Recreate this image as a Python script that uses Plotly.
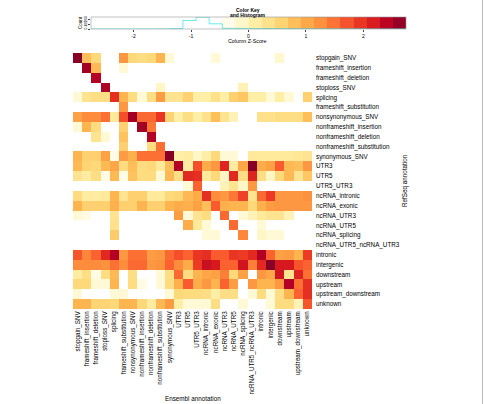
import plotly.graph_objects as go
import numpy as np

# ---------------- data ----------------
ensembl_labels = ["stopgain_SNV", "frameshift_insertion", "frameshift_deletion", "stoploss_SNV",
                  "splicing", "frameshift_substitution", "nonsynonymous_SNV", "nonframeshift_insertion",
                  "nonframeshift_deletion", "nonframeshift_substitution", "synonymous_SNV", "UTR3", "UTR5",
                  "UTR5_UTR3", "ncRNA_intronic", "ncRNA_exonic", "ncRNA_UTR3", "ncRNA_UTR5",
                  "ncRNA_splicing", "ncRNA_UTR5_ncRNA_UTR3", "intronic", "intergenic", "downstream",
                  "upstream", "upstream_downstream", "unknown"]
refseq_labels = list(ensembl_labels)

# column z-scores (rows = RefSeq annotation, columns = Ensembl annotation)
zscore = [
    [2.7, 0.8, 0.5, -0.8, -0.8, 1.2, 0.5, 0.4, 0.5, 0.9, -0.2, -0.8, -0.8, -0.8, -0.8, -0.2, -0.8, -0.8, -0.8, -0.8, -0.8, -0.8, -0.15, -0.8, -0.8, -0.8],
    [-0.8, 2.55, 0.85, -0.8, -0.8, -0.2, -0.8, -0.8, -0.8, -0.8, -0.8, -0.8, -0.8, -0.8, -0.8, -0.8, -0.8, -0.8, -0.8, -0.8, -0.8, -0.8, -0.8, -0.8, -0.8, -0.8],
    [-0.8, -0.8, 2.45, -0.8, -0.8, -0.8, -0.8, -0.8, -0.8, -0.8, -0.8, -0.8, -0.8, -0.8, -0.8, -0.8, -0.8, -0.8, -0.8, -0.8, -0.8, -0.8, -0.8, -0.8, -0.8, -0.8],
    [-0.8, -0.8, -0.8, 2.5, -0.8, -0.8, -0.8, -0.8, -0.8, -0.1, -0.8, -0.8, -0.8, -0.8, -0.8, -0.8, -0.8, -0.8, 0.0, -0.8, -0.8, -0.8, -0.8, -0.8, -0.8, -0.8],
    [-0.2, 0.3, 0.4, 0.4, 2.0, 0.9, 0.45, -0.2, 0.4, 1.15, 0.3, 0.3, 0.6, 0.1, 0.1, 0.35, 0.1, 0.6, 0.7, 0.1, 0.1, -0.2, 0.1, -0.2, -0.5, 0.6],
    [-0.8, -0.8, -0.8, -0.8, -0.8, 1.2, -0.8, -0.8, -0.8, -0.8, -0.8, -0.8, -0.8, -0.8, -0.8, -0.8, -0.8, -0.8, -0.8, -0.8, -0.8, -0.8, -0.8, -0.8, -0.8, -0.8],
    [1.1, 1.3, 1.3, 1.5, 0.2, 1.75, 2.55, 1.55, 1.55, 1.95, 0.55, 0.1, 0.4, 0.1, 0.35, 0.8, 0.3, 0.0, -0.6, -0.6, 0.35, 0.35, 0.4, 0.4, 0.4, 0.8],
    [-0.2, 0.9, 0.45, -0.8, -0.8, 0.6, -0.8, 2.55, 1.45, -0.8, -0.8, -0.8, -0.8, -0.8, -0.8, -0.8, -0.8, -0.8, -0.8, -0.8, -0.8, -0.8, -0.8, -0.8, -0.8, -0.8],
    [-0.8, -0.8, 0.3, -0.2, -0.8, 0.75, -0.8, -0.8, 2.45, -0.8, -0.8, -0.8, -0.8, -0.8, -0.8, -0.8, -0.8, -0.8, -0.8, -0.8, -0.8, -0.8, -0.8, -0.8, -0.8, -0.8],
    [-0.8, -0.8, -0.8, -0.8, -0.8, 0.6, -0.8, -0.8, 0.45, 1.5, -0.8, -0.8, -0.8, -0.8, -0.8, -0.8, -0.8, -0.8, -0.8, -0.8, -0.8, -0.8, -0.8, -0.8, -0.8, -0.8],
    [0.9, 0.6, 0.6, 1.1, -0.3, 1.15, 0.95, 1.5, 1.5, 1.5, 2.7, 0.1, 0.15, -0.1, 0.1, 0.5, -0.2, -0.2, -0.6, 0.2, 0.2, 0.2, 0.2, 0.2, 0.25, 0.3],
    [0.85, 0.55, 0.5, 0.85, 1.05, 0.45, 0.8, 0.45, 0.5, 0.2, 0.8, 2.45, 0.15, 1.75, 1.0, 1.2, 2.1, 0.15, 1.05, 2.7, 1.0, 1.1, 1.65, 0.85, 0.8, 1.2],
    [0.3, 0.15, 0.4, -0.3, 0.85, -0.3, 0.75, 0.45, 0.45, -0.2, 0.85, 0.4, 2.05, 2.0, 0.2, 0.5, -0.1, 2.05, 0.4, 2.1, 0.4, -0.1, 0.5, 0.85, 0.3, 0.7],
    [-0.8, -0.8, -0.8, -0.8, -0.8, -0.8, -0.8, -0.8, -0.8, -0.8, -0.8, -0.8, -0.2, 1.6, -0.8, -0.8, 0.0, 0.3, -0.1, 1.2, -0.8, -0.8, -0.8, -0.8, -0.8, -0.8],
    [0.45, 0.15, 0.15, 0.2, 0.9, 0.3, 0.6, 0.6, 0.2, 0.2, 0.5, 0.55, 0.85, 1.0, 2.0, 1.3, 1.2, 1.45, 1.85, 0.3, 1.55, 1.9, 1.2, 1.2, 1.2, 1.25],
    [0.9, 0.6, 0.6, 0.6, 0.95, 0.6, 0.6, 0.9, 0.6, 0.6, 0.9, 1.0, 0.95, 1.1, 0.8, 1.65, 0.95, 0.9, 0.9, 0.5, 0.95, 1.15, 1.2, 1.2, 1.2, 1.2],
    [-0.2, -0.3, -0.8, -0.8, 0.3, -0.8, -0.8, -0.8, -0.8, -0.8, -0.8, 1.15, -0.2, 0.3, 0.45, -0.8, 1.55, -0.8, -0.2, 0.0, 0.2, 0.3, 0.3, 0.0, -0.8, -0.8],
    [-0.8, -0.8, -0.8, -0.8, 0.35, -0.8, -0.8, -0.8, -0.8, -0.8, -0.8, -0.8, 1.0, 0.2, -0.2, -0.8, -0.8, 1.55, -0.8, -0.8, -0.2, -0.8, -0.8, -0.8, -0.8, -0.8],
    [-0.8, -0.8, -0.8, -0.8, 0.65, -0.8, -0.8, -0.8, -0.8, -0.8, -0.8, -0.8, -0.8, -0.8, -0.2, -0.2, -0.8, -0.8, 1.35, -0.8, -0.1, -0.2, -0.2, -0.8, -0.8, -0.8],
    [-0.8, -0.8, -0.8, -0.8, -0.8, -0.8, -0.8, -0.8, -0.8, -0.8, -0.8, -0.8, -0.8, -0.8, -0.8, -0.8, -0.8, -0.8, -0.8, -0.8, -0.8, -0.8, -0.8, -0.8, -0.8, -0.8],
    [1.7, 1.35, 1.6, 2.05, 2.45, 1.2, 1.5, 1.5, 1.15, 1.2, 1.55, 1.75, 1.6, 1.95, 2.0, 1.65, 1.65, 1.95, 1.9, 2.05, 2.45, 1.6, 1.1, 1.15, 0.9, 1.9],
    [1.3, 1.3, 1.3, 1.25, 1.5, 1.3, 1.55, 1.55, 1.2, 1.25, 1.6, 1.3, 1.0, 1.9, 2.3, 2.2, 1.6, 1.6, 2.25, 1.4, 2.05, 2.7, 2.2, 2.2, 1.7, 1.6],
    [0.15, 0.4, -0.3, 0.4, 0.85, -0.6, 0.4, -0.6, -0.6, -0.2, 0.4, 1.55, 0.45, 0.9, 1.05, 1.1, 1.4, 0.5, 1.1, -0.6, 1.2, 1.05, 2.25, 0.3, 2.1, 1.5],
    [0.5, 0.5, -0.2, -0.2, 0.9, -0.6, 0.45, -0.3, -0.6, -0.2, 0.45, 0.95, 1.65, 1.0, 1.2, 0.9, 1.6, 1.15, -0.6, 1.2, 0.9, 0.9, 1.2, 2.45, 1.5, 2.0],
    [-0.2, -0.6, -0.6, -0.6, -0.2, -0.2, -0.6, -0.6, -0.6, -0.6, -0.2, 0.5, 0.45, 0.45, 0.4, 0.1, 0.4, 0.4, -0.6, -0.2, 0.45, -0.2, 0.4, 0.9, 1.6, 2.0],
    [0.9, 0.9, 0.55, 0.55, 0.5, 0.9, 0.9, 0.5, 0.15, 0.85, 1.15, 0.1, -0.2, -0.2, -0.2, 0.4, -0.6, -0.6, -0.2, -0.6, -0.6, -0.2, 0.45, 0.45, 0.0, 1.7],
]

# colour key: range and histogram counts per key bin
key_min, key_max = -2.74, 2.74
key_ticks = [-2, -1, 0, 1, 2]
hist_counts = [0, 0, 0, 0, 0, 2, 10, 180, 250, 110, 14, 12, 11, 10, 9, 8, 7, 6, 5, 4, 4, 3, 2, 2]
count_ticks = [0, 100, 200]

# ---------------- styling ----------------
W, H = 484, 404
FONT = "Liberation Sans, Arial, Helvetica, sans-serif"

def fx(px):
    return px / W

def fy(py):
    return 1 - py / H

colorscale = [
    [0.0, "#FFFFFF"], [0.409, "#FFFFFF"], [0.464, "#FFF9D6"], [0.518, "#FFEFA6"],
    [0.591, "#FED97A"], [0.664, "#FEB54F"], [0.737, "#FD8D3C"], [0.792, "#FB6230"],
    [0.847, "#EC3A25"], [0.901, "#D7191F"], [0.947, "#B50026"], [1.0, "#800026"],
]

n_rows = len(refseq_labels)
n_cols = len(ensembl_labels)

fig = go.Figure()

fig.add_trace(go.Heatmap(
    z=zscore, x=list(range(n_cols)), y=list(range(n_rows)),
    colorscale=colorscale, zmin=key_min, zmax=key_max, showscale=False,
    xaxis="x", yaxis="y", hoverinfo="skip",
))

# colour key bar
n_bins = len(hist_counts)
edges = np.linspace(key_min, key_max, n_bins + 1)
centers = (edges[:-1] + edges[1:]) / 2
fig.add_trace(go.Heatmap(
    z=[list(centers)], x=list(centers), y=[0],
    colorscale=colorscale, zmin=key_min, zmax=key_max, showscale=False,
    xaxis="x2", yaxis="y2", hoverinfo="skip",
))
# histogram step line
fig.add_trace(go.Scatter(
    x=list(edges), y=hist_counts + [hist_counts[-1]], mode="lines",
    line=dict(color="rgba(40,225,225,0.85)", width=0.8, shape="hv"),
    xaxis="x2", yaxis="y3", hoverinfo="skip", showlegend=False,
))

lab_size = 6.3
fig.update_layout(
    width=W, height=H, margin=dict(l=0, r=0, t=0, b=0),
    paper_bgcolor="white", plot_bgcolor="white",
    font=dict(family=FONT, color="black"),
    showlegend=False,
    xaxis=dict(domain=[fx(73), fx(312)], range=[-0.5, n_cols - 0.5],
               tickmode="array", tickvals=list(range(n_cols)), ticktext=ensembl_labels,
               tickangle=-90, tickfont=dict(size=lab_size, family=FONT), ticks="",
               showgrid=False, zeroline=False, showline=False, anchor="y"),
    yaxis=dict(domain=[fy(309), fy(53)], range=[n_rows - 0.5, -0.5],
               tickmode="array", tickvals=list(range(n_rows)), ticktext=refseq_labels,
               side="right", tickfont=dict(size=lab_size, family=FONT), ticks="",
               ticklabelstandoff=3,
               showgrid=False, zeroline=False, showline=False, anchor="x"),
    xaxis2=dict(domain=[fx(91), fx(406)], range=[key_min, key_max], anchor="y2",
                tickmode="array", tickvals=key_ticks, ticktext=[str(t) for t in key_ticks],
                ticks="outside", ticklen=2, tickwidth=0.5, tickcolor="#444",
                tickfont=dict(size=5, family=FONT), showgrid=False, zeroline=False,
                showline=False),
    yaxis2=dict(domain=[fy(29), fy(17)], range=[-0.5, 0.5], anchor="x2",
                showticklabels=False, ticks="", showgrid=False, zeroline=False),
    yaxis3=dict(overlaying="y2", range=[0, 255], anchor="x2", side="left",
                tickmode="array", tickvals=count_ticks, ticktext=[str(t) for t in count_ticks],
                ticks="outside", ticklen=2, tickwidth=0.5, tickcolor="#444",
                tickangle=-90, tickfont=dict(size=3.5, family=FONT),
                showgrid=False, zeroline=False, showline=False),
)

# box around key
fig.add_shape(type="rect", xref="paper", yref="paper",
              x0=fx(91), x1=fx(406), y0=fy(29), y1=fy(17),
              line=dict(color="#999999", width=0.6))
# outer right border line
fig.add_shape(type="line", xref="paper", yref="paper",
              x0=fx(482.5), x1=fx(482.5), y0=0, y1=1,
              line=dict(color="#BBBBBB", width=1))

def ann(text, x, y, size, bold=False, angle=0):
    fig.add_annotation(text=("<b>%s</b>" % text) if bold else text,
                       xref="paper", yref="paper", x=fx(x), y=fy(y),
                       xanchor="center", yanchor="middle", showarrow=False,
                       textangle=angle, font=dict(size=size, family=FONT, color="black"))

ann("Color Key", 248, 9.5, 5, bold=True)
ann("and Histogram", 248, 14.5, 5, bold=True)
ann("Column Z-Score", 248, 41, 5.3)
ann("Count", 80, 23, 4.5, angle=-90)
ann("Ensembl annotation", 192.5, 398, lab_size)
ann("RefSeq annotation", 405, 181, lab_size, angle=-90)

fig.write_html("out.html")
